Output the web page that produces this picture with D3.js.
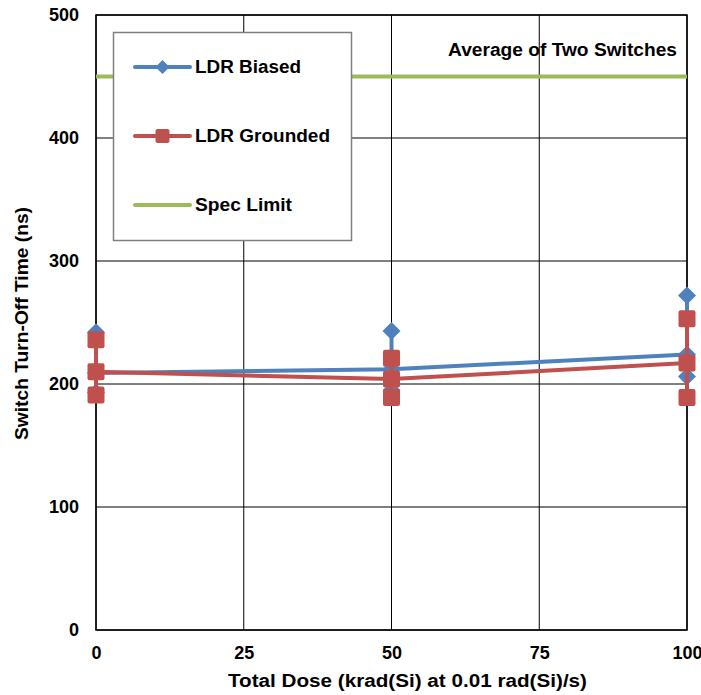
<!DOCTYPE html>
<html><head><meta charset="utf-8">
<script src="https://cdn.jsdelivr.net/npm/d3@7"></script>
<style>body{margin:0;background:#fff}text{font-family:"Liberation Sans",Arial,sans-serif;font-weight:bold}</style>
</head><body><svg id="c" width="701" height="695"></svg>
<script>
const doses = [0, 50, 100];
const biasedMean = [209, 212, 224];
const biasedHigh = [242, 243, 272];
const biasedLow = [193, 195, 206];
const groundedMean = [210, 204, 217];
const groundedHigh = [236, 221, 253];
const groundedLow = [191, 189, 189];
const specLimit = 450;
const xTicks = [0, 25, 50, 75, 100];
const yTicks = [0, 100, 200, 300, 400, 500];

const svg = d3.select("#c");
const L = 96, R = 687, T = 15, B = 630;
const x = d3.scaleLinear().domain([0, 100]).range([L, R]);
const y = d3.scaleLinear().domain([0, 500]).range([B, T]);

// grid
svg.append("g").selectAll("line").data(yTicks).join("line")
  .attr("x1", L).attr("x2", R).attr("y1", d => y(d)).attr("y2", d => y(d))
  .attr("stroke", "#000").attr("stroke-width", 1);
svg.append("g").selectAll("line").data(xTicks).join("line")
  .attr("y1", T).attr("y2", B).attr("x1", d => x(d)).attr("x2", d => x(d))
  .attr("stroke", "#000").attr("stroke-width", 1);
svg.append("rect").attr("x", L).attr("y", T).attr("width", R - L).attr("height", B - T)
  .attr("fill", "none").attr("stroke", "#000").attr("stroke-width", 1.5);

// axes labels
const yAxis = d3.axisLeft(y).tickValues(yTicks).tickSize(0).tickPadding(17);
const ga = svg.append("g").attr("transform", `translate(${L},0)`).call(yAxis);
ga.select(".domain").remove();
ga.selectAll("text").attr("font-size", 18).attr("fill", "#000").style("font-family", "Liberation Sans, Arial").style("font-weight", "bold");
const xAxis = d3.axisBottom(x).tickValues(xTicks).tickSize(0).tickPadding(16);
const gb = svg.append("g").attr("transform", `translate(0,${B})`).call(xAxis);
gb.select(".domain").remove();
gb.selectAll("text").attr("font-size", 18).attr("fill", "#000").style("font-family", "Liberation Sans, Arial").style("font-weight", "bold");

svg.append("text").attr("x", 228).attr("y", 687).attr("font-size", 18)
  .attr("textLength", 359).attr("lengthAdjust", "spacingAndGlyphs").text("Total Dose (krad(Si) at 0.01 rad(Si)/s)");
svg.append("text").attr("transform", "translate(28,440) rotate(-90)").attr("font-size", 18)
  .attr("textLength", 233).attr("lengthAdjust", "spacingAndGlyphs").text("Switch Turn-Off Time (ns)");

// spec limit
const green = "#9BBB59", blue = "#4F81BD", red = "#C0504D";
svg.append("line").attr("x1", L).attr("x2", R).attr("y1", y(specLimit)).attr("y2", y(specLimit))
  .attr("stroke", green).attr("stroke-width", 4);
svg.append("text").attr("x", 448).attr("y", 56).attr("font-size", 18)
  .attr("textLength", 229).attr("lengthAdjust", "spacingAndGlyphs").text("Average of Two Switches");

function diamond(g, cx, cy, s, c) {
  g.append("path").attr("d", `M${cx},${cy - s}L${cx + s},${cy}L${cx},${cy + s}L${cx - s},${cy}Z`).attr("fill", c);
}
function square(g, cx, cy, s, c) {
  g.append("rect").attr("x", cx - s).attr("y", cy - s).attr("width", 2 * s).attr("height", 2 * s).attr("rx", 2).attr("fill", c);
}

function drawSeries(mean, hi, lo, color, marker, ms) {
  const g = svg.append("g");
  doses.forEach((d, i) => {
    g.append("line").attr("x1", x(d)).attr("x2", x(d)).attr("y1", y(hi[i])).attr("y2", y(lo[i]))
      .attr("stroke", color).attr("stroke-width", 4);
  });
  g.append("path").datum(doses.map((d, i) => [d, mean[i]]))
    .attr("d", d3.line().x(p => x(p[0])).y(p => y(p[1])))
    .attr("fill", "none").attr("stroke", color).attr("stroke-width", 4);
  doses.forEach((d, i) => {
    [hi[i], mean[i], lo[i]].forEach(v => marker(g, x(d), y(v), ms, color));
  });
}
drawSeries(biasedMean, biasedHigh, biasedLow, blue, diamond, 9);
drawSeries(groundedMean, groundedHigh, groundedLow, red, square, 8.5);

// legend
const lg = svg.append("g");
lg.append("rect").attr("x", 113.5).attr("y", 32.5).attr("width", 238).attr("height", 208)
  .attr("fill", "#fff").attr("stroke", "#808080").attr("stroke-width", 1.5);
const items = [
  {label: "LDR Biased", color: blue, m: diamond, s: 7, y: 67, w: 106},
  {label: "LDR Grounded", color: red, m: square, s: 7, y: 136, w: 135},
  {label: "Spec Limit", color: green, m: null, s: 0, y: 205, w: 97}
];
items.forEach(it => {
  lg.append("line").attr("x1", 135).attr("x2", 190).attr("y1", it.y).attr("y2", it.y)
    .attr("stroke", it.color).attr("stroke-width", 4).attr("stroke-linecap", "round");
  if (it.m) it.m(lg, 162.5, it.y, it.s, it.color);
  lg.append("text").attr("x", 195).attr("y", it.y + 6).attr("font-size", 18)
    .attr("textLength", it.w).attr("lengthAdjust", "spacingAndGlyphs").text(it.label);
});
</script></body></html>
